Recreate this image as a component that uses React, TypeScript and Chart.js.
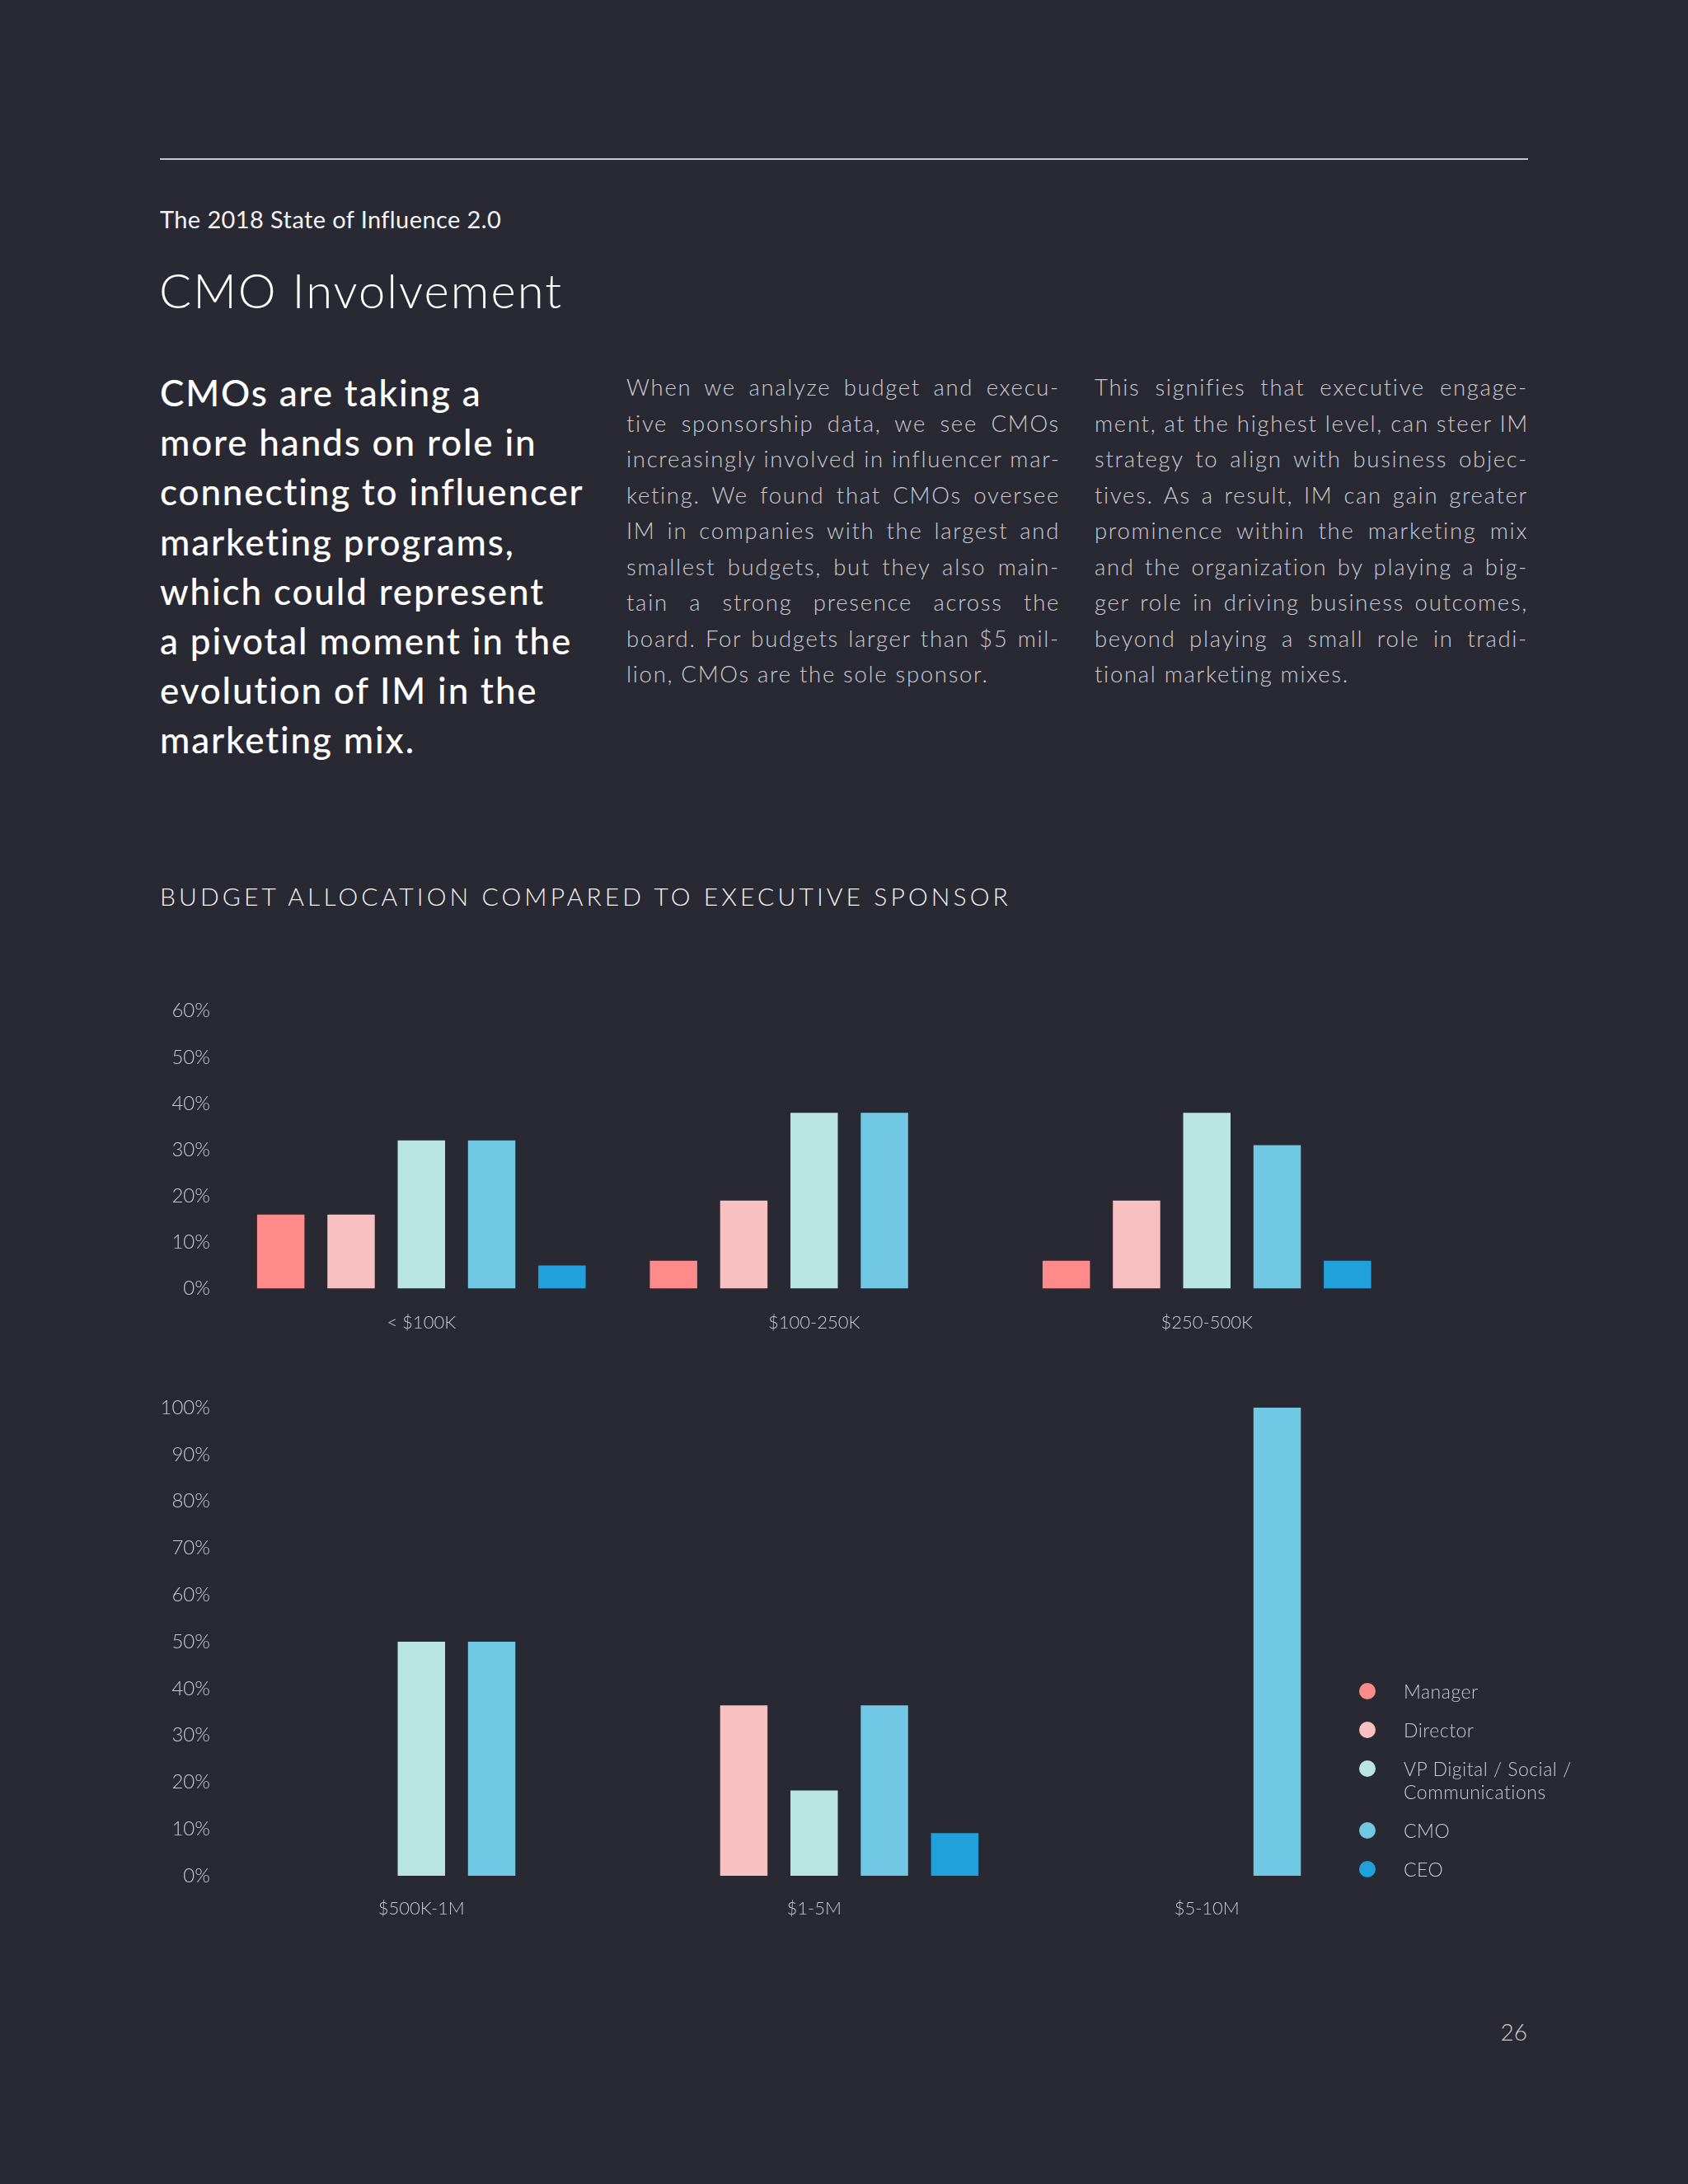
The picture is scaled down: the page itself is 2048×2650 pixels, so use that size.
import React, { useEffect, useRef } from 'react';
import { Chart, registerables } from 'chart.js';

Chart.register(...registerables);

// ---------- data ----------
const seriesNames = ['Manager', 'Director', 'VP Digital / Social / Communications', 'CMO', 'CEO'];
const seriesColors = ['#ff8a8a', '#f8c0c0', '#b9e6e3', '#71c8e4', '#21a1db'];

const topCategories = ['< $100K', '$100-250K', '$250-500K'];
const topManager = [16, 6, 6];
const topDirector = [16, 19, 19];
const topVP = [32, 38, 38];
const topCMO = [32, 38, 31];
const topCEO = [5, 0, 6];
const topMax = 60;

const bottomCategories = ['$500K-1M', '$1-5M', '$5-10M'];
const bottomManager = [0, 0, 0];
const bottomDirector = [0, 36.4, 0];
const bottomVP = [50, 18.2, 0];
const bottomCMO = [50, 36.4, 100];
const bottomCEO = [0, 9.1, 0];
const bottomMax = 100;
const tickStep = 10;

const middleLines = [
  'When we analyze budget and execu-',
  'tive sponsorship data, we see CMOs',
  'increasingly involved in influencer mar-',
  'keting. We found that CMOs oversee',
  'IM in companies with the largest and',
  'smallest budgets, but they also main-',
  'tain a strong presence across the',
  'board. For budgets larger than $5 mil-',
  'lion, CMOs are the sole sponsor.',
];
const rightLines = [
  'This signifies that executive engage-',
  'ment, at the highest level, can steer IM',
  'strategy to align with business objec-',
  'tives. As a result, IM can gain greater',
  'prominence within the marketing mix',
  'and the organization by playing a big-',
  'ger role in driving business outcomes,',
  'beyond playing a small role in tradi-',
  'tional marketing mixes.',
];
const leadLines = [
  'CMOs are taking a',
  'more hands on role in',
  'connecting to influencer',
  'marketing programs,',
  'which could represent',
  'a pivotal moment in the',
  'evolution of IM in the',
  'marketing mix.',
];

// ---------- styles ----------
const FONT = 'Lato, "Open Sans", sans-serif';
const BG = '#282933';
const LABEL = '#c9cad2';

type ChartProps = {
  categories: string[];
  series: number[][];
  max: number;
  top: number;
  height: number;
  padTop: number;
  padBottom: number;
  xPad: number;
};

function BarChart({ categories, series, max, top, height, padTop, padBottom, xPad }: ChartProps) {
  const ref = useRef<HTMLCanvasElement | null>(null);
  useEffect(() => {
    if (!ref.current) return;
    const chart = new Chart(ref.current, {
      type: 'bar',
      data: {
        labels: categories,
        datasets: series.map((d, i) => ({
          label: seriesNames[i],
          data: d,
          backgroundColor: seriesColors[i],
          borderWidth: 0,
          categoryPercentage: 0.895,
          barPercentage: 0.674,
        })),
      },
      options: {
        animation: false,
        responsive: false,
        layout: { padding: { left: 0, right: 57.5, top: padTop, bottom: padBottom } },
        plugins: { legend: { display: false }, tooltip: { enabled: false } },
        scales: {
          x: {
            grid: { display: false, drawTicks: false },
            border: { display: false },
            ticks: {
              color: LABEL,
              font: { family: FONT, size: 22, weight: '300' },
              padding: xPad,
              maxRotation: 0,
              autoSkip: false,
            },
            afterFit: (s: any) => {
              s.height = 60;
              s.paddingLeft = 0;
              s.paddingRight = 0;
            },
          },
          y: {
            min: 0,
            max,
            grid: { display: false, drawTicks: false },
            border: { display: false },
            ticks: {
              stepSize: tickStep,
              color: LABEL,
              font: { family: FONT, size: 24, weight: '300' },
              padding: 18,
              callback: (v: any) => v + '%',
            },
            afterFit: (s: any) => {
              s.width = 273;
              s.paddingTop = 0;
              s.paddingBottom = 0;
            },
          },
        },
      } as any,
    });
    return () => chart.destroy();
  }, []);
  return (
    <canvas
      ref={ref}
      width={1760}
      height={height}
      style={{ position: 'absolute', left: 0, top, width: 1760, height }}
    />
  );
}

function Column({ lines, left, top, width }: { lines: string[]; left: number; top: number; width: number }) {
  return (
    <div
      style={{
        position: 'absolute',
        left,
        top,
        width,
        fontFamily: FONT,
        fontWeight: 300,
        fontSize: 27.5,
        letterSpacing: 1.7,
        lineHeight: '43.5px',
        color: LABEL,
      }}
    >
      {lines.map((l, i) => (
        <div
          key={i}
          style={{
            textAlign: 'justify',
            textAlignLast: i === lines.length - 1 ? 'left' : 'justify',
            whiteSpace: 'nowrap',
          }}
        >
          {l}
        </div>
      ))}
    </div>
  );
}

function Legend() {
  return (
    <div
      style={{
        position: 'absolute',
        left: 1649,
        top: 2038,
        fontFamily: FONT,
        fontWeight: 300,
        fontSize: 23,
        letterSpacing: 0.5,
        lineHeight: '28px',
        color: LABEL,
      }}
    >
      {seriesNames.map((n, i) => (
        <div key={n} style={{ position: 'relative', paddingLeft: 54, marginBottom: 19, width: 215 }}>
          <span
            style={{
              position: 'absolute',
              left: 0,
              top: 4,
              width: 20,
              height: 20,
              borderRadius: '50%',
              background: seriesColors[i],
            }}
          />
          {n}
        </div>
      ))}
    </div>
  );
}

export default function App() {
  return (
    <div style={{ position: 'absolute', left: 0, top: 0, width: 2048, height: 2650, background: BG, overflow: 'hidden' }}>
      <div style={{ position: 'absolute', left: 194, top: 192, width: 1660, height: 2, background: '#c5c6d0' }} />
      <div
        style={{
          position: 'absolute',
          left: 194,
          top: 249,
          fontFamily: FONT,
          fontSize: 29,
          letterSpacing: 0.4,
          lineHeight: 1.2,
          color: '#f2f2f5',
          whiteSpace: 'nowrap',
        }}
      >
        The 2018 State of Influence 2.0
      </div>
      <div
        style={{
          position: 'absolute',
          left: 193,
          top: 317,
          fontFamily: FONT,
          fontWeight: 300,
          fontSize: 58,
          letterSpacing: 2,
          lineHeight: 1.2,
          color: '#ffffff',
          whiteSpace: 'nowrap',
        }}
      >
        CMO Involvement
      </div>
      <div
        style={{
          position: 'absolute',
          left: 194,
          top: 446,
          fontFamily: FONT,
          fontWeight: 500,
          fontSize: 44,
          letterSpacing: 1.85,
          lineHeight: '60.2px',
          color: '#ffffff',
        }}
      >
        {leadLines.map((l, i) => (
          <div key={i} style={{ whiteSpace: 'nowrap' }}>
            {l}
          </div>
        ))}
      </div>
      <Column lines={middleLines} left={760} top={448} width={526} />
      <Column lines={rightLines} left={1328} top={448} width={526} />
      <div
        style={{
          position: 'absolute',
          left: 194,
          top: 1069,
          fontFamily: FONT,
          fontWeight: 300,
          fontSize: 30,
          lineHeight: 1.2,
          letterSpacing: 4.1,
          color: '#f2f2f5',
          whiteSpace: 'nowrap',
        }}
      >
        BUDGET ALLOCATION COMPARED TO EXECUTIVE SPONSOR
      </div>
      <BarChart
        categories={topCategories}
        series={[topManager, topDirector, topVP, topCMO, topCEO]}
        max={topMax}
        top={1200}
        height={440}
        padTop={26.7}
        padBottom={16.5}
        xPad={28}
      />
      <BarChart
        categories={bottomCategories}
        series={[bottomManager, bottomDirector, bottomVP, bottomCMO, bottomCEO]}
        max={bottomMax}
        top={1680}
        height={700}
        padTop={28}
        padBottom={44}
        xPad={27}
      />
      <Legend />
      <div
        style={{
          position: 'absolute',
          left: 1753,
          width: 100,
          textAlign: 'right',
          top: 2449,
          fontFamily: FONT,
          fontWeight: 300,
          fontSize: 28,
          lineHeight: 1.2,
          color: LABEL,
        }}
      >
        26
      </div>
    </div>
  );
}
